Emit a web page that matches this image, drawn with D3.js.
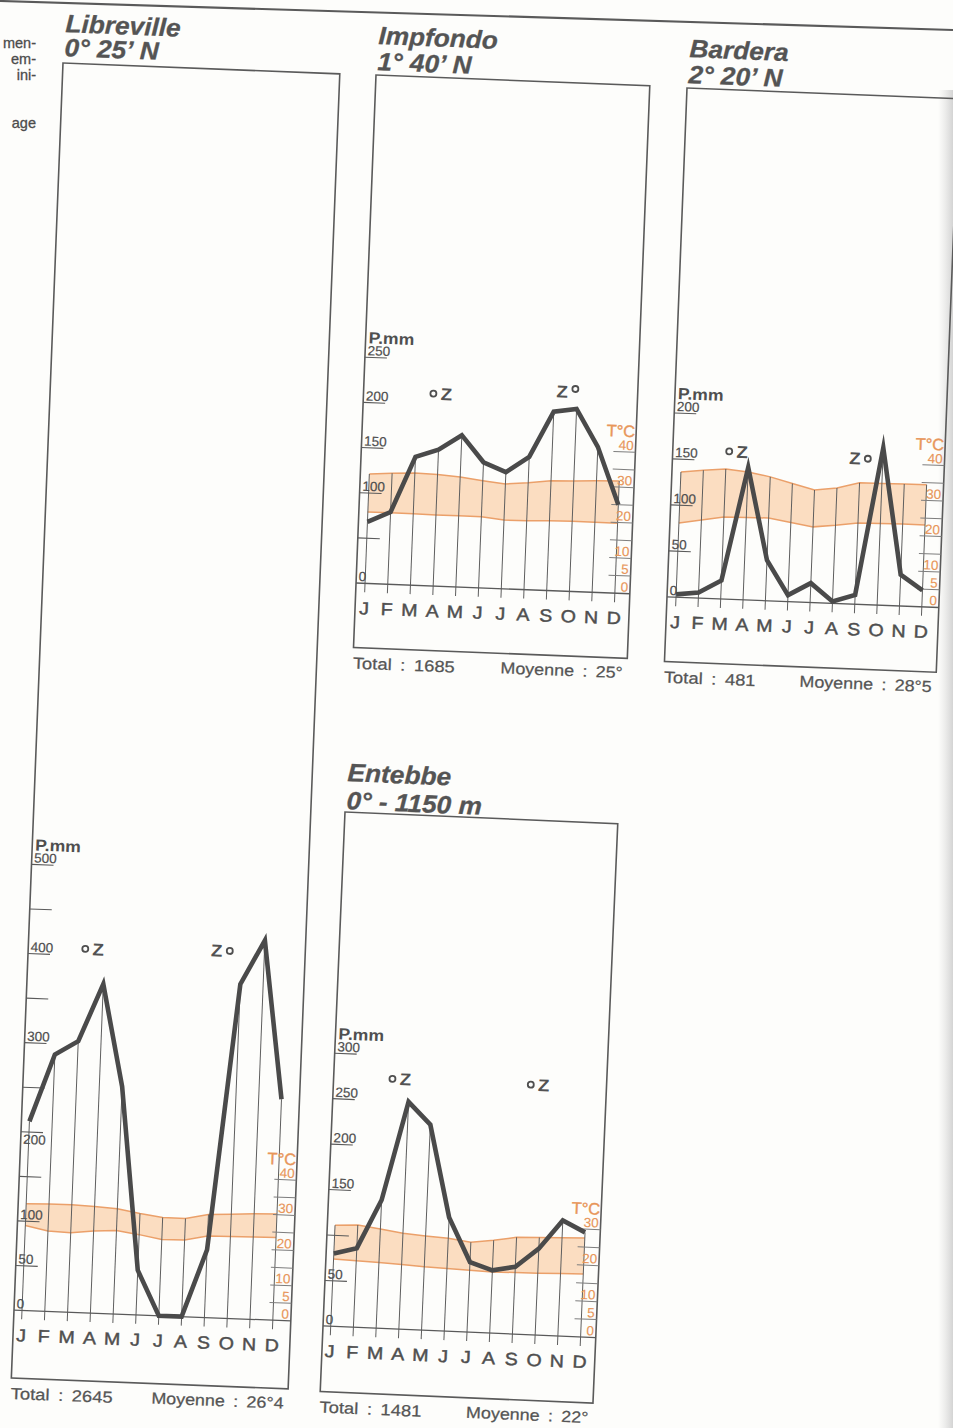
<!DOCTYPE html>
<html>
<head>
<meta charset="utf-8">
<script src="https://cdn.jsdelivr.net/npm/d3@7"></script>
<style>
  html, body { margin: 0; padding: 0; background: #fdfdfb; }
  svg { display: block; }
</style>
</head>
<body>
<svg id="page" width="953" height="1428"></svg>
<script>
// ---- data -------------------------------------------------------------
const months = ["J", "F", "M", "A", "M", "J", "J", "A", "S", "O", "N", "D"];

// Libreville (0° 25' N)
const librevillePrecip = [212, 288, 304, 369, 255, 50, 0, 0, 76, 375, 425, 248];
const librevilleTmax = [30.3, 30.5, 30.5, 30.3, 29.9, 28.8, 27.9, 27.9, 29.3, 29.6, 30.0, 30.2];
const librevilleTmin = [24.1, 22.8, 22.6, 23.3, 23.7, 22.8, 21.7, 21.8, 23.2, 23.3, 23.4, 23.5];
const librevillePTicks = [0, 50, 100, 150, 200, 250, 300, 350, 400, 450, 500];
const librevillePLabels = [0, 50, 100, 200, 300, 400, 500];
const librevilleZenith = [{ m: 2.5, p: 401, circle: "left" }, { m: 8.13, p: 405, circle: "right" }];

// Impfondo (1° 40' N)
const impfondoPrecip = [68, 80, 142, 151, 168, 139, 129, 147, 198, 202, 161, 98];
const impfondoTmax = [30.9, 31.4, 31.7, 31.5, 31.1, 30.3, 29.6, 30.2, 31.0, 31.2, 31.5, 31.7];
const impfondoTmin = [20.2, 20.2, 20.2, 20.1, 20.1, 20.1, 19.4, 19.5, 19.7, 19.8, 19.8, 19.8];
const impfondoPTicks = [0, 50, 100, 150, 200, 250];
const impfondoPLabels = [0, 100, 150, 200, 250];
const impfondoZenith = [{ m: 3.03, p: 206, circle: "left" }, { m: 8.56, p: 214, circle: "raised" }];

// Bardera (2° 20' N)
const barderaPrecip = [3, 6, 20, 144, 44, 7, 21, 2, 10, 171, 34, 18];
const barderaTmax = [35.3, 36.0, 36.6, 36.0, 34.9, 33.3, 31.7, 32.5, 34.2, 34.3, 34.4, 34.4];
const barderaTmin = [20.9, 22.0, 23.1, 23.2, 23.3, 22.3, 21.3, 22.0, 22.9, 23.0, 23.1, 23.1];
const barderaPTicks = [0, 50, 100, 150, 200];
const barderaPLabels = [0, 50, 100, 150, 200];
const barderaZenith = [{ m: 2.48, p: 154, circle: "left" }, { m: 7.97, p: 152, circle: "right" }];

// Entebbe (0° - 1150 m)
const entebbePrecip = [80, 87, 141, 250, 226, 125, 77, 69, 74, 95, 127, 115];
const entebbeTmax = [28.1, 28.4, 27.6, 26.7, 26.2, 25.8, 25.0, 25.8, 26.9, 27.1, 27.3, 27.5];
const entebbeTmin = [18.7, 18.5, 18.3, 18.0, 17.6, 17.4, 17.2, 17.0, 17.1, 17.2, 17.4, 17.5];
const entebbePTicks = [0, 50, 100, 150, 200, 250, 300];
const entebbePLabels = [0, 50, 150, 200, 250, 300];
const entebbeZenith = [{ m: 2.6, p: 268, circle: "left" }, { m: 8.69, p: 268, circle: "left" }];

// Temperature axis ticks
const tTicks40 = [0, 5, 10, 15, 20, 25, 30, 35, 40];
const tTicks30 = [0, 5, 10, 15, 20, 25, 30];
const tLabels = [0, 5, 10, 20, 30, 40];

// ---- panel layout -------------------------------------------------------
const panels = [
  { title: "Libreville", sub: "0° 25’ N", origin: [63, 63], angle: 2.25, w: 277, h: 1316,
    v0: 1248, k: 0.892, kt: 3.52, uJ: 8, uD: 259, pMax: 500, tTop: 40,
    precip: librevillePrecip, tmax: librevilleTmax, tmin: librevilleTmin,
    pTicks: librevillePTicks, pLabels: librevillePLabels, pBelow: [200], tTicks: tTicks40,
    zenith: librevilleZenith, total: "Total : 2645", mean: "Moyenne : 26°4", subDy: -7 },
  { title: "Impfondo", sub: "1° 40’ N", origin: [376, 75], angle: 2.25, w: 274, h: 573,
    v0: 508.4, k: 0.904, kt: 3.54, uJ: 9, uD: 259, pMax: 250, tTop: 40,
    precip: impfondoPrecip, tmax: impfondoTmax, tmin: impfondoTmin,
    pTicks: impfondoPTicks, pLabels: impfondoPLabels, pBelow: [], tTicks: tTicks40,
    zenith: impfondoZenith, total: "Total : 1685", mean: "Moyenne : 25°", subDy: -5 },
  { title: "Bardera", sub: "2° 20’ N", origin: [687, 88], angle: 2.25, w: 272, h: 574,
    v0: 509.2, k: 0.92, kt: 3.55, uJ: 9, uD: 255, pMax: 200, tTop: 40,
    precip: barderaPrecip, tmax: barderaTmax, tmin: barderaTmin,
    pTicks: barderaPTicks, pLabels: barderaPLabels, pBelow: [], tTicks: tTicks40,
    zenith: barderaZenith, total: "Total : 481", mean: "Moyenne : 28°5", subDy: -5 },
  { title: "Entebbe", sub: "0° - 1150 m", origin: [345, 812], angle: 2.45, w: 273, h: 580,
    v0: 514.4, k: 0.91, kt: 3.6, uJ: 7.7, uD: 257.8, pMax: 300, tTop: 30,
    precip: entebbePrecip, tmax: entebbeTmax, tmin: entebbeTmin,
    pTicks: entebbePTicks, pLabels: entebbePLabels, pBelow: [], tTicks: tTicks30,
    zenith: entebbeZenith, total: "Total : 1481", mean: "Moyenne : 22°", subDy: -3 }
];

// ---- styles -------------------------------------------------------------
const INK = "#4f4f4f";
const CURVE = "#4a4a4a";
const ORANGE = "#e8965a";
const BAND = "#fbd9ba";
const BAND_EDGE = "#eba06a";
const SANS = "'Liberation Sans', Arial, Helvetica, sans-serif";
const NARROW = "'Liberation Sans Narrow', 'Arial Narrow', 'Liberation Sans', sans-serif";

const svg = d3.select("#page");

// text drawn at (x, y) with optional horizontal stretch and a thin outline for weight
function label(g, s, x, y, o = {}) {
  const fill = o.fill || INK;
  const t = g.append("g")
    .attr("transform", `translate(${x},${y}) scale(${o.sx || 1},1)`)
    .append("text")
    .text(s)
    .attr("font-family", o.family || SANS)
    .attr("font-size", o.size || 14)
    .attr("font-weight", o.weight || "normal")
    .attr("font-style", o.style || "normal")
    .attr("text-anchor", o.anchor || "start")
    .attr("fill", fill);
  if (o.thick) t.attr("stroke", fill).attr("stroke-width", o.thick);
  if (o.spacing) t.attr("letter-spacing", o.spacing);
  if (o.words) t.attr("word-spacing", o.words);
  return t;
}

// ---- page furniture -------------------------------------------------------
// rule across the top of the page
svg.append("line")
  .attr("x1", 0).attr("y1", 1).attr("x2", 953).attr("y2", 30)
  .attr("stroke", "#5a5a5a").attr("stroke-width", 2.2);

// tail of the neighbouring column's text
const margin = svg.append("g");
[["men-", 48], ["em-", 64], ["ini-", 80], ["age", 128]].forEach(([s, y]) =>
  label(margin, s, 36, y, { size: 14.5, anchor: "end", fill: "#4c4c4c", thick: 0.3 }));

// shadow along the binding edge
const defs = svg.append("defs");
const grad = defs.append("linearGradient").attr("id", "edge").attr("x1", 0).attr("x2", 1);
grad.append("stop").attr("offset", 0).attr("stop-color", "#dcdcdc").attr("stop-opacity", 0);
grad.append("stop").attr("offset", 1).attr("stop-color", "#cfcfcf").attr("stop-opacity", 0.9);
svg.append("rect").attr("x", 938).attr("y", 90).attr("width", 15).attr("height", 1338)
  .attr("fill", "url(#edge)");

// ---- climate diagrams ---------------------------------------------------
panels.forEach(p => {
  const g = svg.append("g")
    .attr("transform", `translate(${p.origin[0]},${p.origin[1]}) rotate(${p.angle})`);

  const x = d3.scaleLinear().domain([0, 11]).range([p.uJ, p.uD]);
  const y = d3.scaleLinear().domain([0, p.pMax]).range([p.v0, p.v0 - p.pMax * p.k]);
  const yT = d3.scaleLinear().domain([0, 40]).range([p.v0, p.v0 - 40 * p.kt]);
  const idx = d3.range(12);

  // title
  label(g, p.title, 1, -31, { size: 25, weight: "bold", style: "italic", sx: 1.05, fill: "#545454", thick: 0.3 });
  label(g, p.sub, 1, p.subDy, { size: 25, weight: "bold", style: "italic", sx: 1.05, fill: "#545454", thick: 0.3 });

  // frame
  g.append("rect").attr("x", 0).attr("y", 0).attr("width", p.w).attr("height", p.h)
    .attr("fill", "none").attr("stroke", "#5a5a5a").attr("stroke-width", 1.6);

  // temperature band
  g.append("path").datum(idx)
    .attr("d", d3.area().x(i => x(i)).y0(i => yT(p.tmin[i])).y1(i => yT(p.tmax[i])))
    .attr("fill", BAND).attr("opacity", 0.9);
  [p.tmax, p.tmin].forEach(series =>
    g.append("path").datum(idx)
      .attr("d", d3.line().x(i => x(i)).y(i => yT(series[i])))
      .attr("fill", "none").attr("stroke", BAND_EDGE).attr("stroke-width", 1.5));

  // month verticals: from below the baseline up to the higher of rain and max temperature
  g.append("g").selectAll("line").data(idx).join("line")
    .attr("x1", i => x(i)).attr("x2", i => x(i))
    .attr("y1", p.v0 + 9)
    .attr("y2", i => Math.min(y(p.precip[i]), yT(p.tmax[i])))
    .attr("stroke", "#5e5e5e").attr("stroke-width", 1);

  // baseline
  g.append("line").attr("x1", 0).attr("x2", p.w).attr("y1", p.v0).attr("y2", p.v0)
    .attr("stroke", "#5a5a5a").attr("stroke-width", 1.3);

  // precipitation axis (left edge of the frame)
  g.append("g").selectAll("line").data(p.pTicks.filter(v => v > 0)).join("line")
    .attr("x1", 0).attr("x2", 22).attr("y1", v => y(v)).attr("y2", v => y(v))
    .attr("stroke", "#5a5a5a").attr("stroke-width", 1.1);
  p.pLabels.forEach(v => {
    const below = p.pBelow.includes(v);
    label(g, String(v), 2.5, below ? y(v) + 12 : y(v) - 2,
      { size: 13.5, family: NARROW, fill: "#4f4f4f", thick: 0.2 });
  });
  label(g, "P.mm", 3, y(p.pMax) - 14, { size: 16, weight: "bold", sx: 1.1, fill: "#4f4f4f" });

  // temperature axis (right edge of the frame)
  g.append("g").selectAll("line").data(p.tTicks.filter(v => v > 0)).join("line")
    .attr("x1", p.w - 22).attr("x2", p.w).attr("y1", v => yT(v)).attr("y2", v => yT(v))
    .attr("stroke", "#7d7d7d").attr("stroke-width", 1);
  tLabels.filter(v => v <= p.tTop).forEach(v =>
    label(g, String(v), p.w - 2, yT(v) - 2,
      { size: 13.5, family: NARROW, anchor: "end", fill: ORANGE, thick: 0.15 }));
  label(g, "T°C", p.w - 1, yT(p.tTop) - 15, { size: 16.5, anchor: "end", fill: ORANGE, thick: 0.4 });

  // precipitation curve
  g.append("path").datum(idx)
    .attr("d", d3.line().x(i => x(i)).y(i => y(p.precip[i])))
    .attr("fill", "none").attr("stroke", CURVE).attr("stroke-width", 4.6)
    .attr("stroke-linejoin", "miter").attr("stroke-miterlimit", 8);

  // zenith passages of the sun
  p.zenith.forEach(z => {
    const zx = x(z.m), zy = y(z.p);
    const zg = g.append("g").attr("transform", `translate(${zx},${zy})`);
    const cx = z.circle === "left" ? -8 : 8;
    const cy = z.circle === "raised" ? -9 : -6;
    zg.append("circle").attr("cx", cx).attr("cy", cy).attr("r", 3)
      .attr("fill", "none").attr("stroke", INK).attr("stroke-width", 1.8);
    label(zg, "Z", z.circle === "left" ? 5 : -5, 0,
      { size: 17, anchor: "middle", sx: 1.1, weight: "bold", fill: "#525252" });
  });

  // month initials
  idx.forEach(i => label(g, months[i], x(i), p.v0 + 31,
    { size: 17.5, anchor: "middle", sx: 1.12, fill: "#4f4f4f", thick: 0.45 }));

  // totals
  label(g, p.total, 0, p.h + 21, { size: 16, sx: 1.15, words: 3, fill: "#555", thick: 0.25 });
  label(g, p.mean, p.w - 4, p.h + 20, { size: 16, sx: 1.12, words: 3, anchor: "end", fill: "#555", thick: 0.25 });
});
</script>
</body>
</html>
